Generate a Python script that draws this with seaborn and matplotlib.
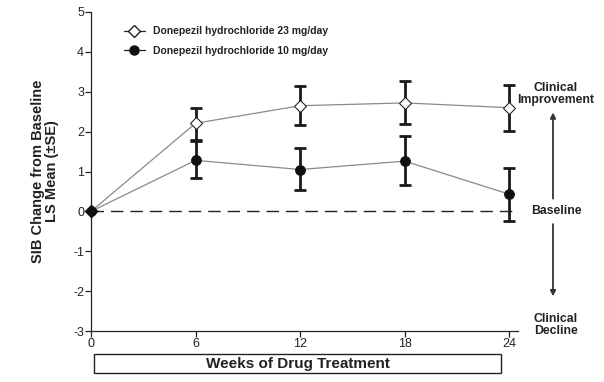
import matplotlib
matplotlib.use("Agg")
import matplotlib.pyplot as plt
import matplotlib.transforms as mtransforms
from matplotlib.patches import Rectangle
from matplotlib.lines import Line2D
import seaborn as sns
import pandas as pd
import numpy as np

# data
weeks = [0, 6, 12, 18, 24]
mean_23 = [0, 2.21, 2.65, 2.72, 2.60]
lo_23 = [0, 1.80, 2.17, 2.19, 2.02]
hi_23 = [0, 2.58, 3.14, 3.27, 3.16]
mean_10 = [0, 1.28, 1.05, 1.26, 0.43]
lo_10 = [0, 0.84, 0.53, 0.66, -0.23]
hi_10 = [0, 1.76, 1.58, 1.88, 1.08]
label_23 = "Donepezil hydrochloride 23 mg/day"
label_10 = "Donepezil hydrochloride 10 mg/day"
y_ticks = [-3, -2, -1, 0, 1, 2, 3, 4, 5]

sns.set_style("ticks")
plt.rcParams["font.family"] = ["Liberation Sans", "DejaVu Sans"]
plt.rcParams["axes.unicode_minus"] = False

df = pd.DataFrame({
    "week": weeks * 2,
    "change": mean_23 + mean_10,
    "dose": [label_23] * len(weeks) + [label_10] * len(weeks),
})

fig = plt.figure(figsize=(6.04, 3.82), dpi=100)
ax = fig.add_axes([91 / 604, 1 - 331 / 382, 427 / 604, 319 / 382])

# baseline
ax.axhline(0, color="#222222", lw=1.0, dashes=(9, 5), zorder=1)

# error bars (+-SE)
for m, lo, hi in [(mean_23, lo_23, hi_23), (mean_10, lo_10, hi_10)]:
    m = np.array(m[1:])
    err = [m - np.array(lo[1:]), np.array(hi[1:]) - m]
    ax.errorbar(weeks[1:], m, yerr=err, fmt="none", ecolor="#1a1a1a",
                elinewidth=2.0, capsize=4.5, capthick=2.0, zorder=2)

sns.lineplot(data=df, x="week", y="change", hue="dose", style="dose",
             markers={label_23: "D", label_10: "o"}, dashes=False,
             palette={label_23: "#8a8a8a", label_10: "#8a8a8a"},
             linewidth=0.9, markersize=7, ax=ax, legend=False, zorder=3)
# marker faces
ax.lines[-2].set_markerfacecolor("white")
ax.lines[-2].set_markeredgecolor("#1a1a1a")
ax.lines[-2].set_markersize(6.5)
ax.lines[-1].set_markerfacecolor("#111111")
ax.lines[-1].set_markeredgecolor("#111111")
# baseline point
ax.plot(weeks[0], mean_23[0], marker="D", ms=6.5, color="#111111", zorder=5, clip_on=False)

ax.set_xlim(0, 24.5)
ax.set_ylim(-3, 5)
ax.set_xticks(weeks)
ax.set_yticks(y_ticks)
ax.tick_params(labelsize=9, length=4, width=0.9, colors="#222222", pad=1)
for s in ["left", "bottom"]:
    ax.spines[s].set_linewidth(0.9)
    ax.spines[s].set_color("#222222")
sns.despine(ax=ax)
ax.set_xlabel("")
ax.set_ylabel("SIB Change from Baseline\nLS Mean (\u00b1SE)", fontsize=10.5,
              fontweight="bold", color="#222222", linespacing=1.0, labelpad=10)

# legend drawn by hand
h23 = Line2D([], [], color="#222222", lw=0.9, marker="D", ms=6, mfc="white", mec="#222222")
h10 = Line2D([], [], color="#222222", lw=0.9, marker="o", ms=6.5, mfc="#111111", mec="#111111")
leg = ax.legend([h23, h10], [label_23, label_10], loc="upper left",
                bbox_to_anchor=(0.055, 0.985), frameon=False, fontsize=7.5,
                handlelength=2.0, handletextpad=0.8, labelspacing=0.95)
for t in leg.get_texts():
    t.set_fontweight("bold")
    t.set_color("#222222")

# right-side annotations
trans = mtransforms.blended_transform_factory(ax.transAxes, ax.transData)
xr = (556 - 91) / 427
ax.text(xr, 2.95, "Clinical\nImprovement", transform=trans, ha="center", va="center",
        fontsize=8.8, fontweight="bold", color="#222222", linespacing=1.0, clip_on=False)
ax.text(xr, 0.0, "Baseline", transform=trans, ha="center", va="center",
        fontsize=8.8, fontweight="bold", color="#222222", clip_on=False)
ax.text(xr, -2.85, "Clinical\nDecline", transform=trans, ha="center", va="center",
        fontsize=8.8, fontweight="bold", color="#222222", linespacing=1.0, clip_on=False)
xa = (553 - 91) / 427
ax.annotate("", xy=(xa, 2.55), xytext=(xa, 0.25), xycoords=trans, textcoords=trans,
            arrowprops=dict(arrowstyle="-|>", color="#333333", lw=1.3, mutation_scale=8),
            annotation_clip=False)
ax.annotate("", xy=(xa, -2.2), xytext=(xa, -0.25), xycoords=trans, textcoords=trans,
            arrowprops=dict(arrowstyle="-|>", color="#333333", lw=1.3, mutation_scale=8),
            annotation_clip=False)

# boxed x label
fig.patches.append(Rectangle((94 / 604, 1 - 373 / 382), (501 - 94) / 604, 19 / 382,
                             transform=fig.transFigure, fill=False, ec="#222222", lw=1.0))
fig.text((94 + 501) / 2 / 604, 1 - 364 / 382, "Weeks of Drug Treatment", ha="center",
         va="center", fontsize=11, fontweight="bold", color="#222222")

fig.savefig("out.png", dpi=100)
